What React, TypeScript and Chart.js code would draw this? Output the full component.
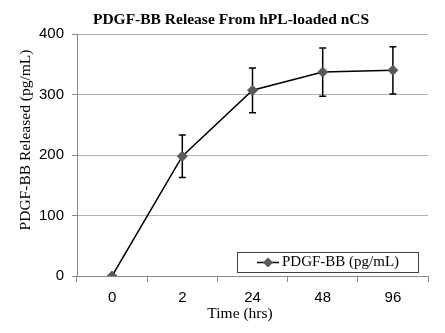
import React, { useEffect, useRef } from "react";
import { Chart, registerables } from "chart.js";

Chart.register(...registerables);

const categories = ["0", "2", "24", "48", "96"];
const seriesLabel = "PDGF-BB (pg/mL)";
const values = [0, 198, 307, 337, 340];
const errors = [0, 35, 37, 40, 39];
const yTicks = [0, 100, 200, 300, 400];
const chartTitle = "PDGF-BB Release From hPL-loaded nCS";
const xTitle = "Time (hrs)";
const yTitle = "PDGF-BB Released (pg/mL)";

const errorBarPlugin = {
  id: "errorBars",
  beforeDatasetsDraw(chart: any) {
    const { ctx } = chart;
    const meta = chart.getDatasetMeta(0);
    const y = chart.scales.y;
    ctx.save();
    ctx.strokeStyle = "#000";
    ctx.lineWidth = 1.5;
    meta.data.forEach((pt: any, i: number) => {
      const e = errors[i];
      if (!e) return;
      const top = y.getPixelForValue(values[i] + e);
      const bot = y.getPixelForValue(values[i] - e);
      const x = pt.x;
      ctx.beginPath();
      ctx.moveTo(x, top);
      ctx.lineTo(x, bot);
      ctx.moveTo(x - 3.5, top);
      ctx.lineTo(x + 3.5, top);
      ctx.moveTo(x - 3.5, bot);
      ctx.lineTo(x + 3.5, bot);
      ctx.stroke();
    });
    ctx.restore();
  },
};

const titlesPlugin = {
  id: "titles",
  afterDraw(chart: any) {
    const { ctx, chartArea } = chart;
    ctx.save();
    ctx.fillStyle = "#000";
    ctx.textAlign = "center";
    ctx.textBaseline = "middle";
    ctx.font = "bold 15.5px 'Liberation Serif'";
    ctx.fillText(chartTitle, 231, 20);
    ctx.font = "15.5px 'Liberation Serif'";
    ctx.fillText(xTitle, 240, chartArea.bottom + 38);
    ctx.translate(26, 140);
    ctx.rotate(-Math.PI / 2);
    ctx.fillText(yTitle, 0, 0);
    ctx.restore();
  },
};

const legendBoxPlugin = {
  id: "legendBox",
  afterDraw(chart: any) {
    const { ctx, chartArea } = chart;
    const x0 = chartArea.right - 191;
    const y0 = chartArea.bottom - 24;
    const w = 181;
    const h = 20;
    ctx.save();
    ctx.fillStyle = "#fff";
    ctx.fillRect(x0, y0, w, h);
    ctx.strokeStyle = "#404040";
    ctx.lineWidth = 1;
    ctx.strokeRect(x0 + 0.5, y0 + 0.5, w, h);
    const cy = y0 + h / 2 + 0.5;
    ctx.strokeStyle = "#000";
    ctx.lineWidth = 1.5;
    ctx.beginPath();
    ctx.moveTo(x0 + 20, cy);
    ctx.lineTo(x0 + 42, cy);
    ctx.stroke();
    ctx.fillStyle = "#595959";
    ctx.beginPath();
    const mx = x0 + 31;
    ctx.moveTo(mx, cy - 5);
    ctx.lineTo(mx + 5, cy);
    ctx.lineTo(mx, cy + 5);
    ctx.lineTo(mx - 5, cy);
    ctx.closePath();
    ctx.fill();
    ctx.fillStyle = "#000";
    ctx.font = "15px 'Liberation Serif'";
    ctx.textBaseline = "middle";
    ctx.textAlign = "left";
    ctx.fillText(chart.data.datasets[0].label, x0 + 45, cy);
    ctx.restore();
  },
};

export default function App() {
  const ref = useRef<HTMLCanvasElement>(null);
  useEffect(() => {
    if (!ref.current) return;
    const chart = new Chart(ref.current, {
      type: "line",
      data: {
        labels: categories,
        datasets: [
          {
            label: seriesLabel,
            data: values,
            borderColor: "#000",
            borderWidth: 1.5,
            pointStyle: "rectRot",
            pointRadius: 5,
            pointBackgroundColor: "#595959",
            pointBorderColor: "#595959",
            pointBorderWidth: 1,
            tension: 0,
          },
        ],
      },
      options: {
        animation: false,
        responsive: false,
        maintainAspectRatio: false,
        layout: { padding: { left: 0, right: 17, top: 34, bottom: 0 } },
        plugins: {
          legend: { display: false },
          tooltip: { enabled: false },
          title: { display: false },
        },
        scales: {
          x: {
            type: "category",
            offset: true,
            grid: {
              offset: true,
              drawOnChartArea: false,
              drawTicks: true,
              tickLength: 6,
              color: "#898989",
            },
            border: { color: "#898989", width: 1 },
            ticks: {
              color: "#000",
              font: { family: "'Liberation Sans'", size: 15 },
              padding: 7,
            },
            afterFit(scale: any) {
              scale.height = 57;
            },
          },
          y: {
            min: 0,
            max: 400,
            afterBuildTicks(scale: any) {
              scale.ticks = yTicks.map((v) => ({ value: v }));
            },
            grid: {
              color: "#b3b3b3",
              tickLength: 5,
              tickColor: "#898989",
            },
            border: { color: "#898989", width: 1 },
            ticks: {
              color: "#000",
              font: { family: "'Liberation Sans'", size: 15 },
              padding: 8,
            },
            afterFit(scale: any) {
              scale.width = 77;
            },
          },
        },
      },
      plugins: [errorBarPlugin, legendBoxPlugin, titlesPlugin],
    });
    return () => chart.destroy();
  }, []);
  return (
    <div style={{ position: "fixed", left: 0, top: 0, width: 445, height: 333, background: "#fff" }}>
      <canvas ref={ref} width={445} height={333} style={{ width: 445, height: 333 }} />
    </div>
  );
}
